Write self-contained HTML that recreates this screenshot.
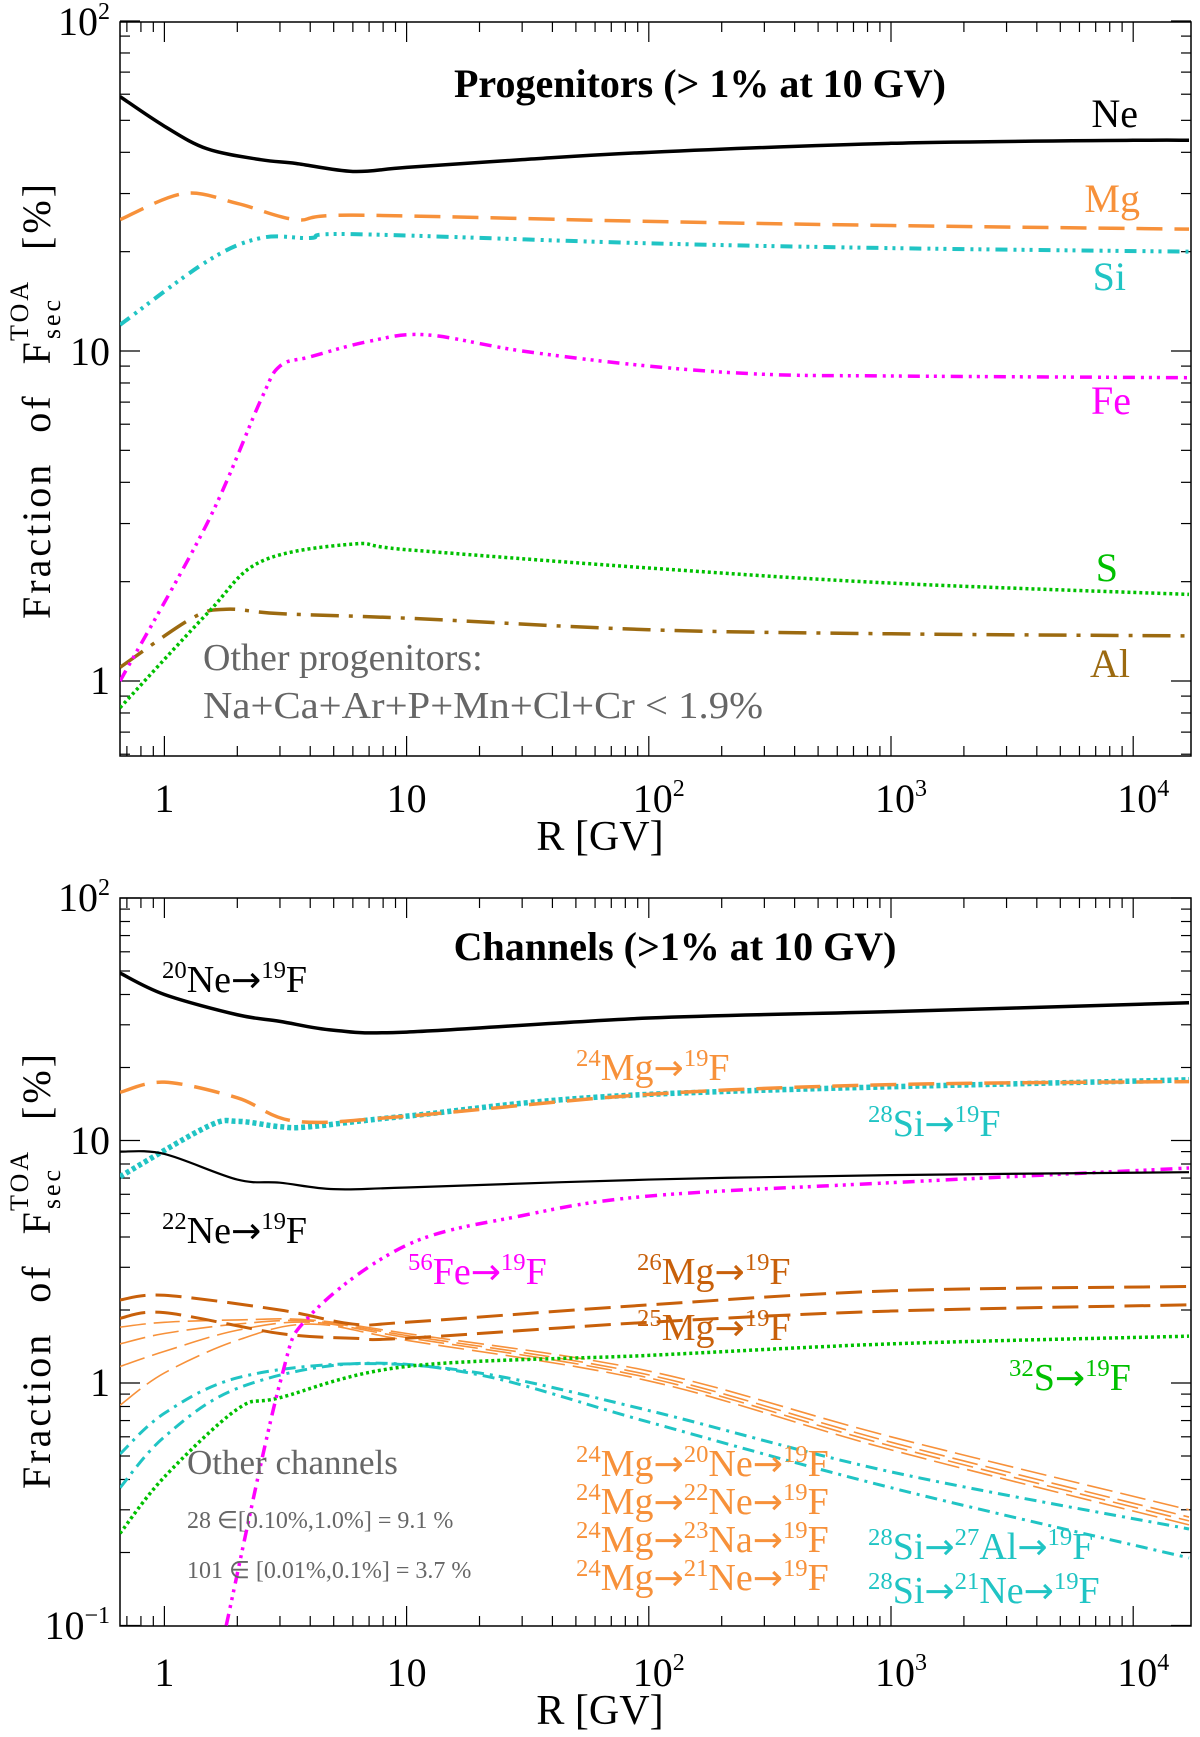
<!DOCTYPE html>
<html><head><meta charset="utf-8"><style>
body{margin:0;background:#fff;}
svg{display:block;font-family:"Liberation Serif",serif;}
</style></head><body>
<svg id="chart" width="1200" height="1737" viewBox="0 0 1200 1737"></svg>
<script>
// ---------- data ----------
const topX = [0.656,1,1.5,2.5,3.5,6,10,30,100,1000,10000,17000];
const neTop = [59,48,41,38,37,35,36,38,40,42.6,43.5,43.5];
const mgX = [0.656,1.2,2,3.5,6,100,1000,17000];
const mgTop = [25,30,28,25,25.8,24.7,24,23.4];
const siX = [0.656,1.5,2.5,4,6,100,1000,17000];
const siTop = [12,18.7,22,22,22.6,21.2,20.5,20];
const feX = [0.656,1.5,2.5,3,4,7,12,30,100,300,1000,17000];
const feTop = [1.0,3.0,7.1,9.0,9.6,10.7,11.2,10,9.0,8.5,8.4,8.3];
const sX = [0.656,1.5,2.5,6,10,100,1000,17000];
const sTop = [0.83,1.6,2.3,2.6,2.5,2.2,1.98,1.83];
const alX = [0.656,1.3,1.8,3,10,100,1000,17000];
const alTop = [1.1,1.55,1.65,1.6,1.55,1.43,1.39,1.37];

const chX = [0.656,1,2,3,5,10,100,1000,17000];
const ne20 = [49,40,33,31,28.5,28,32,34,37];
const ne22 = [9.0,8.8,6.9,6.7,6.3,6.4,6.9,7.2,7.4];
const mg24X = [0.656,1,2,3.5,10,100,1000,17000];
const mg24 = [15.8,17.4,15,12,12.6,15.5,17,17.5];
const si28X = [0.656,1.5,2,3,4,10,100,17000];
const si28 = [7.1,11.4,12,11.4,11.4,12.6,15.5,17.8];
const fe56X = [1.8,3,4,10,30,100,1000,17000];
const fe56 = [0.1,1.0,1.9,3.7,4.9,5.9,6.7,7.7];
const mgBX = [0.656,1,3,6,10,100,1000,17000];
const mg26 = [2.2,2.3,2.0,1.75,1.78,2.1,2.4,2.5];
const mg25 = [1.85,1.95,1.6,1.53,1.53,1.78,1.98,2.1];
const s32X = [0.656,1,2,3,10,100,1000,17000];
const s32 = [0.24,0.41,0.78,0.87,1.17,1.3,1.45,1.56];
const siChX = [0.656,1,2,6,20,100,1000,17000];
const siAl = [0.51,0.75,1.05,1.2,1.1,0.77,0.43,0.25];
const siNe = [0.37,0.6,0.95,1.2,1.08,0.69,0.37,0.19];
const mgChX = [0.656,1,2,4,10,100,1000,17000];
const mgCh1 = [1.7,1.78,1.82,1.82,1.6,1.12,0.6,0.3];
const mgCh2 = [1.45,1.6,1.75,1.8,1.57,1.08,0.57,0.28];
const mgCh3 = [1.17,1.35,1.65,1.78,1.54,1.05,0.55,0.27];
const mgCh4 = [0.81,1.1,1.5,1.75,1.5,1.02,0.53,0.26];

// ---------- helpers ----------
const NS="http://www.w3.org/2000/svg";
const svg=document.getElementById('chart');
function el(t,a,p){const e=document.createElementNS(NS,t);for(const k in a)e.setAttribute(k,a[k]);(p||svg).appendChild(e);return e;}
const L=120,R=1191;
const xLog1=164.4, xDec=242.2;
function xs(v){return xLog1+Math.log10(v)*xDec;}

function panel(top,bottom,y1,yDec,ymin,ymax,name){
  const g=el('g',{});
  
  
  const ys=v=>y1-Math.log10(v)*yDec;
  el('rect',{x:L,y:top,width:R-L,height:bottom-top,fill:'none',stroke:'#000','stroke-width':1.5},g);
  for(let d=-1;d<=4;d++)for(let m=1;m<10;m++){
    const v=m*Math.pow(10,d);const x=xs(v);if(x<L||x>R)continue;
    const len=m==1?20:10;
    el('line',{x1:x,x2:x,y1:bottom,y2:bottom-len,stroke:'#000','stroke-width':1.2},g);
    el('line',{x1:x,x2:x,y1:top,y2:top+len,stroke:'#000','stroke-width':1.2},g);
  }
  for(let d=-2;d<=2;d++)for(let m=1;m<10;m++){
    const v=m*Math.pow(10,d);if(v<ymin*0.999||v>ymax*1.001)continue;const y=ys(v);
    const len=m==1?20:10;
    el('line',{x1:L,x2:L+len,y1:y,y2:y,stroke:'#000','stroke-width':1.2},g);
    el('line',{x1:R,x2:R-len,y1:y,y2:y,stroke:'#000','stroke-width':1.2},g);
  }
  return ys;
}
function curve(xsArr,ysArr,ys,style,name){
  const P=xsArr.map((x,i)=>[xs(x),ys(ysArr[i])]);
  let d='M'+P[0][0]+','+P[0][1];
  for(let i=0;i<P.length-1;i++){
    const p0=P[i-1]||P[i],p1=P[i],p2=P[i+1],p3=P[i+2]||P[i+1];
    const c1=[p1[0]+(p2[0]-p0[0])/6,p1[1]+(p2[1]-p0[1])/6];
    const c2=[p2[0]-(p3[0]-p1[0])/6,p2[1]-(p3[1]-p1[1])/6];
    d+=` C${c1[0]},${c1[1]} ${c2[0]},${c2[1]} ${p2[0]},${p2[1]}`;
  }
  const a={d:d,fill:'none',stroke:style.c,'stroke-width':style.w};
  if(style.da)a['stroke-dasharray']=style.da;
  const p=el('path',a,clipG);
  
  
}
function txt(x,y,s,size,fill,attrs){
  const t=el('text',Object.assign({x:x,y:y,'font-size':size,fill:fill},attrs||{}));
  t.innerHTML=s;return t;
}
let clipG;
const defs=el('defs',{});
el('rect',{x:L,y:22,width:R-L,height:734},el('clipPath',{id:'c1'},defs));
el('rect',{x:L,y:898,width:R-L,height:728},el('clipPath',{id:'c2'},defs));

const solid={c:'#000',w:3.5};
const orangeDash={c:'#f7913a',w:3.5,da:'26,12'};
const cyanDDD={c:'#20c4c4',w:4,da:'12,6,3,5,3,5,3,6'};
const magDDD={c:'#ff00ff',w:3.5,da:'12,6,3,5,3,5,3,6'};
const greenDot={c:'#00c000',w:3.5,da:'3,3'};
const brownDD={c:'#9c6a10',w:3.5,da:'28,10,4,10'};

// ---------- top panel ----------
const ys1=panel(22,756,681,330,0.6,100,'progenitors-panel');
clipG=el('g',{'clip-path':'url(#c1)'});
curve(alX,alTop,ys1,brownDD,'al-line');
curve(sX,sTop,ys1,greenDot,'s-line');
curve(feX,feTop,ys1,magDDD,'fe-line');
curve(siX,siTop,ys1,cyanDDD,'si-line');
curve(mgX,mgTop,ys1,orangeDash,'mg-line');
curve(topX,neTop,ys1,solid,'ne-line');

// ---------- bottom panel ----------
const ys2=panel(898,1626,1383,242.5,0.1,100,'channels-panel');
clipG=el('g',{'clip-path':'url(#c2)'});
const thinO={c:'#f7913a',w:1.6,da:'26,8'};
curve(mgChX,mgCh1,ys2,thinO,'mg24-ne20-line');
curve(mgChX,mgCh2,ys2,thinO,'mg24-ne22-line');
curve(mgChX,mgCh3,ys2,thinO,'mg24-na23-line');
curve(mgChX,mgCh4,ys2,thinO,'mg24-ne21-line');
curve(siChX,siAl,ys2,{c:'#20c4c4',w:3,da:'12,6,3,6'},'si28-al27-line');
curve(siChX,siNe,ys2,{c:'#20c4c4',w:3,da:'12,6,3,6'},'si28-ne21-line');
curve(s32X,s32,ys2,greenDot,'s32-line');
curve(mgBX,mg26,ys2,{c:'#c8600a',w:3,da:'26,10'},'mg26-line');
curve(mgBX,mg25,ys2,{c:'#c8600a',w:3,da:'26,10'},'mg25-line');
curve(fe56X,fe56,ys2,magDDD,'fe56-line');
curve(si28X,si28,ys2,{c:'#20c4c4',w:5.5,da:'4,3'},'si28-line');
curve(mg24X,mg24,ys2,orangeDash,'mg24-line');
curve(chX,ne22,ys2,{c:'#000',w:2.2},'ne22-line');
curve(chX,ne20,ys2,solid,'ne20-line');

// ---------- axis labels ----------
function xLabels(yb,yt){
  ['1','10','10<tspan font-size="24" dy="-16">2</tspan>','10<tspan font-size="24" dy="-16">3</tspan>','10<tspan font-size="24" dy="-16">4</tspan>'].forEach((s,i)=>{
    const t=txt(xs(Math.pow(10,i))+(i>1?10:0),yb,s,40,'#000',{'text-anchor':'middle'});
    
  });
  const t=txt(600,yt,'R [GV]',42,'#000',{'text-anchor':'middle'});
  
}
xLabels(812,850);xLabels(1686,1724);
function yLabel(cy){
  const t=txt(0,0,'Fraction of F<tspan font-size="26" dy="10">sec</tspan><tspan font-size="26" dx="-44" dy="-32">TOA</tspan><tspan dy="22"> [%]</tspan>',40,'#000',{'text-anchor':'middle',transform:`translate(50,${cy}) rotate(-90)`,'letter-spacing':'3','word-spacing':'16'});
  
}
yLabel(400);yLabel(1270);
function yt(y,s){const t=txt(110,y+13,s,40,'#000',{'text-anchor':'end'});}
yt(22,'10<tspan font-size="24" dy="-16">2</tspan>');yt(352,'10');yt(681,'1');
yt(898,'10<tspan font-size="24" dy="-16">2</tspan>');yt(1141,'10');yt(1383,'1');yt(1626,'10<tspan font-size="24" dy="-16">−1</tspan>');

// ---------- annotations ----------
function lab(x,y,s,size,c,name,extra){const t=txt(x,y,s,size,c,extra);}
lab(700,97,'Progenitors (&gt; 1% at 10 GV)',40,'#000','top-title',{'text-anchor':'middle','font-weight':'bold'});
lab(1138,127,'Ne',40,'#000','ne-label',{'text-anchor':'end'});
lab(1140,212,'Mg',40,'#f7913a','mg-label',{'text-anchor':'end'});
lab(1126,290,'Si',40,'#20c4c4','si-label',{'text-anchor':'end'});
lab(1131,414,'Fe',40,'#ff00ff','fe-label',{'text-anchor':'end'});
lab(1118,581,'S',40,'#00c000','s-label',{'text-anchor':'end'});
lab(1130,677,'Al',40,'#9c6a10','al-label',{'text-anchor':'end'});
lab(203,670,'Other progenitors:',38,'#666','other-progenitors-label');
lab(203,718,'Na+Ca+Ar+P+Mn+Cl+Cr &lt; 1.9%',38,'#666','other-progenitors-list',{textLength:560,lengthAdjust:'spacingAndGlyphs'});

lab(675,960,'Channels (&gt;1% at 10 GV)',40,'#000','bottom-title',{'text-anchor':'middle','font-weight':'bold'});
function chain(x,y,parts,c,name,size){
  let s='';parts.forEach((p,i)=>{s+=(i?`<tspan font-family="DejaVu Sans" font-size="${size*0.95}">→</tspan>`:'')+`<tspan font-size="${size*0.65}" dy="-14">${p[0]}</tspan><tspan dy="14">${p[1]}</tspan>`;});
  lab(x,y,s,size,c,name);
}
chain(162,992,[['20','Ne'],['19','F']],'#000','ne20-label',38);
chain(576,1080,[['24','Mg'],['19','F']],'#f7913a','mg24-label',38);
chain(868,1136,[['28','Si'],['19','F']],'#20c4c4','si28-label',38);
chain(162,1243,[['22','Ne'],['19','F']],'#000','ne22-label',38);
chain(408,1284,[['56','Fe'],['19','F']],'#ff00ff','fe56-label',38);
chain(637,1284,[['26','Mg'],['19','F']],'#c8600a','mg26-label',38);
chain(637,1340,[['25','Mg'],['19','F']],'#c8600a','mg25-label',38);
chain(1009,1390,[['32','S'],['19','F']],'#00c000','s32-label',38);
lab(187,1474,'Other channels',35,'#666','other-channels-label');
lab(187,1528,'28 ∈[0.10%,1.0%] = 9.1 %',24,'#666','other-channels-1');
lab(187,1578,'101 ∈ [0.01%,0.1%] = 3.7 %',24,'#666','other-channels-2');
chain(576,1476,[['24','Mg'],['20','Ne'],['19','F']],'#f7913a','mg24-ne20-label',38);
chain(576,1514,[['24','Mg'],['22','Ne'],['19','F']],'#f7913a','mg24-ne22-label',38);
chain(576,1552,[['24','Mg'],['23','Na'],['19','F']],'#f7913a','mg24-na23-label',38);
chain(576,1590,[['24','Mg'],['21','Ne'],['19','F']],'#f7913a','mg24-ne21-label',38);
chain(868,1559,[['28','Si'],['27','Al'],['19','F']],'#20c4c4','si28-al27-label',38);
chain(868,1603,[['28','Si'],['21','Ne'],['19','F']],'#20c4c4','si28-ne21-label',38);
</script>
</body></html>
